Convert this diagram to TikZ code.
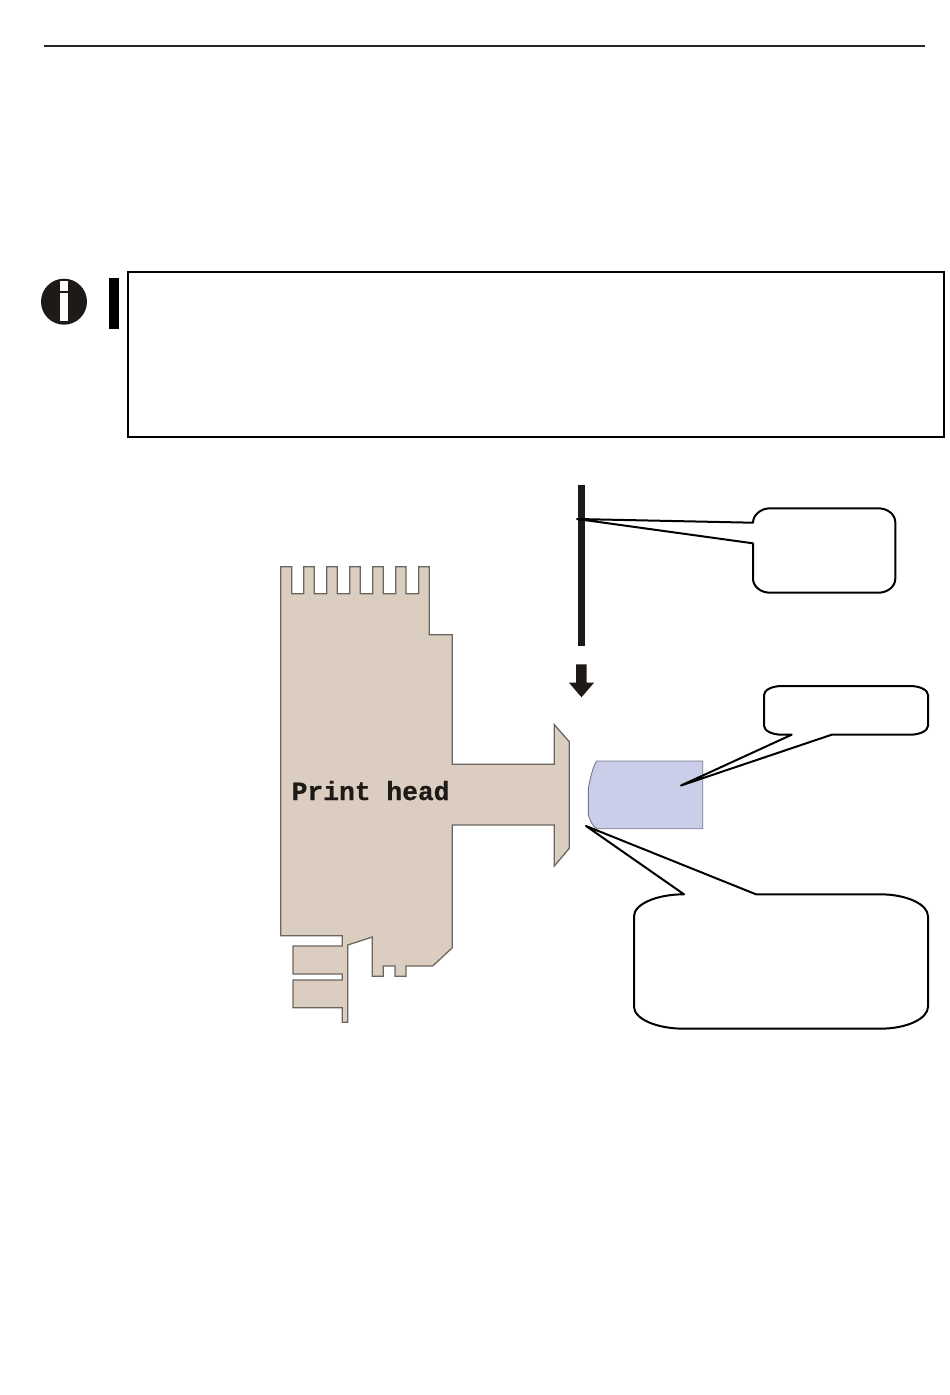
\documentclass[tikz,border=0pt]{standalone}
\usepackage{fontspec}
\newfontfamily\headfont{Liberation Mono}[BoldFeatures={FakeBold=0.7}]
\definecolor{headfill}{HTML}{DBCDBF}
\definecolor{headline}{HTML}{6B6660}
\definecolor{blockfill}{HTML}{CBCEE8}
\definecolor{blockline}{HTML}{74768C}
\definecolor{inkblack}{HTML}{1E1A18}
\tikzset{
  callout/.style={draw=black,line width=2pt,fill=white,line join=round},
  headshape/.style={draw=headline,line width=1.3pt,fill=headfill,line join=miter},
  blockshape/.style={draw=blockline,line width=0.9pt,fill=blockfill},
  framebox/.style={draw=black,line width=2pt},
  headlabel/.style={inner sep=0pt,anchor=base west,font=\headfont\bfseries\fontsize{26.3}{28}\selectfont,text=inkblack}
}
\begin{document}
\begin{tikzpicture}[x=1pt,y=-1pt]
\useasboundingbox (0,0) rectangle (950,1395);
% top rule
\coordinate (ruleL) at (44,46);
\coordinate (ruleR) at (925,46);
\draw[line width=1.5pt,color=black!85] (ruleL) -- (ruleR);
% info box and icon
\draw[framebox] (128,271.5) rectangle (944,437);
\fill[inkblack] (64,301.7) circle[radius=23];
\fill[white] (59.5,281) rectangle (68,291);
\fill[white] (59.5,292.5) rectangle (68,320.5);
\fill[black] (108.5,278) rectangle (118.7,329);
% print head
\draw[headshape] (280.7,566.7) -- (291.7,566.7) -- (291.7,593.7) -- (303.7,593.7) -- (303.7,566.7)
  -- (314.3,566.7) -- (314.3,593.7) -- (326.7,593.7) -- (326.7,566.7)
  -- (337.3,566.7) -- (337.3,593.7) -- (349.7,593.7) -- (349.7,566.7)
  -- (360.3,566.7) -- (360.3,593.7) -- (372.7,593.7) -- (372.7,566.7)
  -- (383.3,566.7) -- (383.3,593.7) -- (395.7,593.7) -- (395.7,566.7)
  -- (406,566.7) -- (406,593.7) -- (418.7,593.7) -- (418.7,566.7)
  -- (429.3,566.7) -- (429.3,634.7) -- (452.3,634.7) -- (452.3,764.3)
  -- (554.3,764.3) -- (554.3,724.7) -- (569.3,741.7) -- (569.3,848.3)
  -- (554.3,866) -- (554.3,825) -- (452.3,825) -- (452.3,947.7)
  -- (432.7,966) -- (406,966) -- (406,976.3) -- (395,976.3) -- (395,966)
  -- (383.3,966) -- (383.3,976.3) -- (372.3,976.3) -- (372.3,937)
  -- (347.7,945) -- (347.7,1022.3) -- (342.3,1022.3) -- (342.3,1007.7)
  -- (293,1007.7) -- (293,980) -- (342.3,980) -- (342.3,974)
  -- (293,974) -- (293,946) -- (342.3,946) -- (342.3,935.7) -- (280.7,935.7) -- cycle;
\node[headlabel] (headtext) at (291.5,800) {Print head};
% block
\draw[blockshape] (597,761) -- (702.7,761) -- (702.7,828.7) -- (597,828.7)
  .. controls (593,827.5) and (590,820) .. (588.3,815) -- (588.3,788)
  .. controls (590,780) and (593,765) .. (597,761) -- cycle;
% moving bar and arrow
\fill[inkblack] (577.7,485) rectangle (585,645.7);
\fill[inkblack] (576,664.3) -- (586.7,664.3) -- (586.7,682.7) -- (594,682.7) -- (581.5,697.3) -- (569,682.7) -- (576,682.7) -- cycle;
% callouts
\draw[callout] (577,519) -- (753,522.7)
  .. controls (753,514.8) and (761,508.3) .. (770,508.3) -- (878.3,508.3)
  .. controls (887.7,508.3) and (895.3,514.6) .. (895.3,522.3) -- (895.3,578.7)
  .. controls (895.3,586.4) and (887.7,592.7) .. (878.3,592.7) -- (770,592.7)
  .. controls (760.6,592.7) and (753,586.4) .. (753,578.7) -- (753,543.3) -- cycle;
\draw[callout] (681,785.5) -- (791.7,734.7) -- (782,734.7)
  .. controls (772,734.7) and (764,730.7) .. (764,725.7) -- (764,695)
  .. controls (764,690) and (772,686) .. (782,686) -- (910,686)
  .. controls (920,686) and (928,690) .. (928,695) -- (928,725.7)
  .. controls (928,730.7) and (920,734.7) .. (910,734.7) -- (831.7,734.7) -- cycle;
\draw[callout] (586,826) -- (684,894.3)
  .. controls (656.4,894.3) and (634,904.2) .. (634,916.3) -- (634,1006.7)
  .. controls (634,1018.8) and (656.4,1028.7) .. (684,1028.7) -- (880,1028.7)
  .. controls (906.5,1028.7) and (928,1018.8) .. (928,1006.7) -- (928,916.3)
  .. controls (928,904.2) and (906.5,894.3) .. (880,894.3) -- (756,894.3) -- cycle;
\end{tikzpicture}
\end{document}
